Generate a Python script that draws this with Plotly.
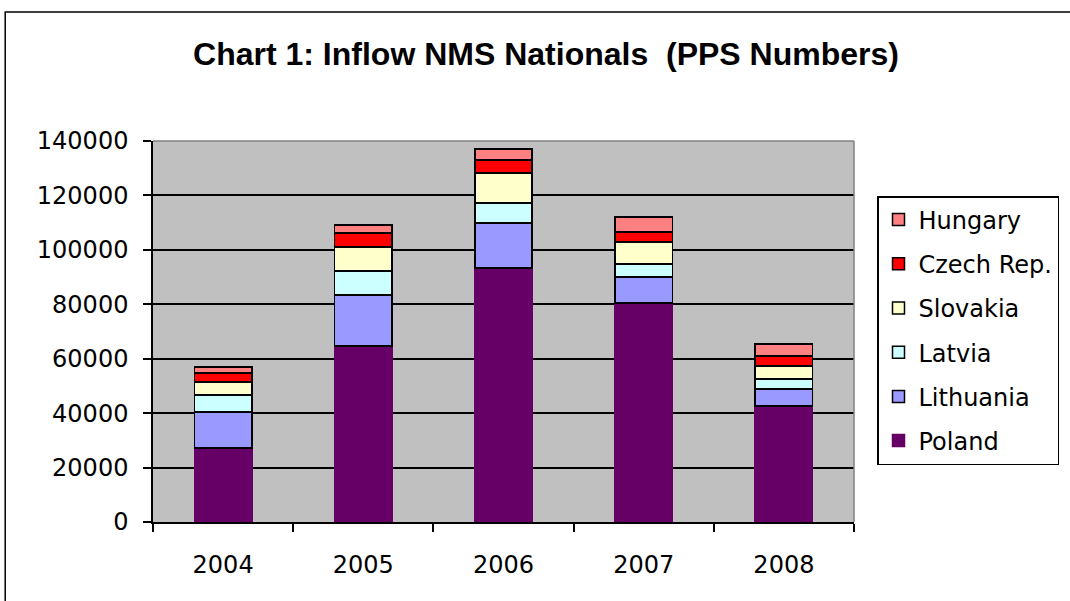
import plotly.graph_objects as go

years = ["2004", "2005", "2006", "2007", "2008"]
poland = [27200, 64700, 93300, 80500, 42600]
lithuania = [13200, 18700, 16600, 9500, 6300]
latvia = [6300, 8800, 7300, 4800, 3600]
slovakia = [4800, 8900, 11100, 8100, 4800]
czech = [3300, 5100, 4700, 3700, 3700]
hungary = [2200, 2900, 4100, 5500, 4400]

series = [
    ("Poland", poland, "#660066"),
    ("Lithuania", lithuania, "#9999FF"),
    ("Latvia", latvia, "#CCFFFF"),
    ("Slovakia", slovakia, "#FFFFCC"),
    ("Czech Rep.", czech, "#FF0000"),
    ("Hungary", hungary, "#FF8080"),
]

fig = go.Figure()
n = len(series)
for i, (name, vals, col) in enumerate(series):
    fig.add_trace(go.Bar(
        x=years, y=vals, name=name, legendgroup=name, legendrank=n - i,
        marker=dict(color=col, line=dict(color="#660066" if name == "Poland" else "black", width=1.5)),
        width=0.41,
    ))

W, H = 1070, 601
L, R, T, B = 153, 855, 141, 522

def px2x(p):
    return (p - L) / (R - L)

def px2y(p):
    return (B - p) / (B - T)

fig.update_layout(
    width=W, height=H,
    barmode="stack",
    margin=dict(l=L, r=W - R, t=T, b=H - B),
    paper_bgcolor="white",
    plot_bgcolor="#C0C0C0",
    font=dict(family="DejaVu Sans", size=24, color="black"),
    title=dict(
        text="Chart 1: Inflow NMS Nationals  (PPS Numbers)",
        x=546 / W, xanchor="center", y=1 - 54 / H, yanchor="middle",
        font=dict(family="Liberation Sans", size=32, color="black", weight="bold"),
    ),
    legend=dict(
        x=px2x(877), xanchor="left", y=px2y(196), yanchor="top",
        bordercolor="black", borderwidth=1.5, bgcolor="white",
        font=dict(family="DejaVu Sans", size=24),
        traceorder="grouped", tracegroupgap=10,
    ),
    showlegend=True,
    bargap=0.59,
    xaxis=dict(
        showgrid=False, showline=True, linecolor="black", linewidth=1.5,
        ticks="outside", ticklen=8, tickcolor="black", tickwidth=1.5,
        tickson="boundaries", ticklabelstandoff=20,
        tickfont=dict(family="DejaVu Sans", size=24),
    ),
    yaxis=dict(
        range=[0, 140000], dtick=20000, tickformat="d",
        showgrid=True, gridcolor="black", gridwidth=1.5,
        showline=True, linecolor="black", linewidth=1.5,
        ticks="outside", ticklen=8, tickcolor="black", tickwidth=1.5,
        ticklabelstandoff=10, zeroline=False,
        tickfont=dict(family="DejaVu Sans", size=24),
    ),
    shapes=[
        dict(type="line", xref="paper", yref="paper", x0=0, x1=1, y0=1, y1=1,
             line=dict(color="#808080", width=1.5)),
        dict(type="line", xref="paper", yref="paper", x0=1, x1=1, y0=0, y1=1,
             line=dict(color="#808080", width=1.5)),
        dict(type="rect", xref="paper", yref="paper",
             x0=px2x(5), x1=px2x(1080), y0=px2y(620), y1=px2y(12),
             line=dict(color="black", width=1.5), fillcolor="rgba(0,0,0,0)"),
    ],
)

fig.write_html("out.html")
